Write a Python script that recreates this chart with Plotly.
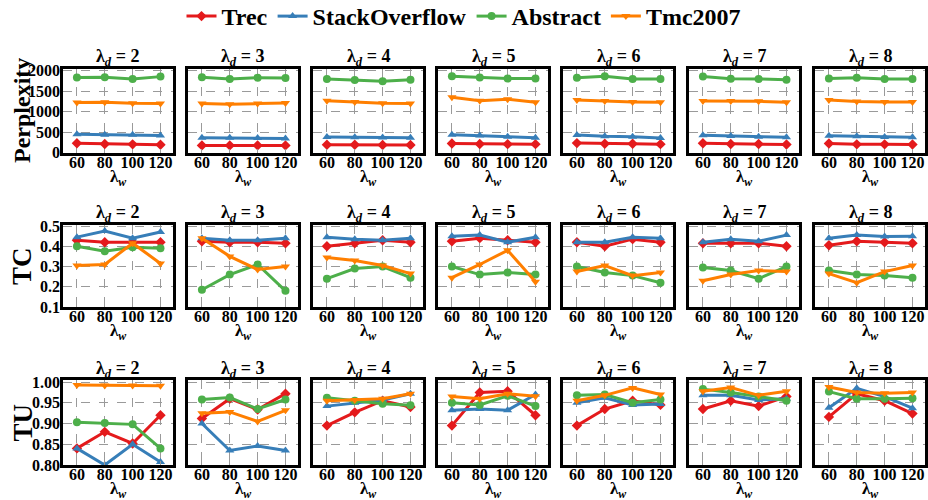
import plotly.graph_objects as go

x_vals = [60, 80, 100, 120]
lambda_d = [2, 3, 4, 5, 6, 7, 8]
x_ticks = [60, 80, 100, 120]
series_names = ["Trec", "StackOverflow", "Abstract", "Tmc2007"]

ppl_trec = [[230,215,205,195],[180,180,180,180],[195,195,190,190],[225,215,210,210],[235,220,220,210],[230,215,215,200],[225,205,205,200]]
ppl_so = [[450,440,440,420],[365,365,360,350],[385,380,370,365],[440,420,390,365],[430,400,390,360],[425,410,390,375],[415,400,385,380]]
ppl_abs = [[1830,1835,1790,1850],[1835,1790,1825,1815],[1795,1770,1740,1775],[1860,1830,1805,1805],[1825,1860,1795,1795],[1850,1800,1795,1775],[1805,1820,1795,1790]]
ppl_tmc = [[1220,1225,1205,1200],[1195,1180,1195,1210],[1265,1235,1205,1200],[1350,1265,1300,1230],[1280,1255,1235,1225],[1255,1255,1250,1225],[1280,1245,1235,1235]]

tc_trec = [[0.43,0.42,0.42,0.42],[0.425,0.42,0.42,0.415],[0.40,0.415,0.43,0.42],[0.425,0.44,0.43,0.42],[0.42,0.40,0.435,0.42],[0.415,0.415,0.415,0.40],[0.405,0.425,0.42,0.415]]
tc_so = [[0.445,0.475,0.44,0.47],[0.44,0.43,0.43,0.44],[0.445,0.435,0.43,0.44],[0.45,0.455,0.42,0.445],[0.42,0.42,0.445,0.44],[0.42,0.435,0.425,0.455],[0.44,0.455,0.448,0.45]]
tc_abs = [[0.40,0.375,0.395,0.39],[0.185,0.26,0.31,0.18],[0.24,0.29,0.30,0.245],[0.30,0.26,0.27,0.26],[0.30,0.27,0.255,0.22],[0.295,0.28,0.24,0.30],[0.28,0.26,0.255,0.245]]
tc_tmc = [[0.305,0.31,0.415,0.315],[0.44,0.35,0.285,0.30],[0.345,0.33,0.305,0.265],[0.245,0.31,0.38,0.225],[0.275,0.305,0.255,0.27],[0.23,0.26,0.28,0.275],[0.265,0.22,0.275,0.305]]

tu_trec = [[0.84,0.88,0.852,0.92],[0.912,0.96,0.934,0.972],[0.895,0.927,0.955,0.94],[0.895,0.975,0.978,0.92],[0.895,0.935,0.955,0.945],[0.935,0.955,0.942,0.965],[0.916,0.972,0.955,0.924]]
tu_so = [[0.84,0.80,0.85,0.807],[0.90,0.835,0.846,0.835],[0.942,0.95,0.957,0.972],[0.932,0.935,0.932,0.97],[0.95,0.962,0.945,0.947],[0.968,0.968,0.957,0.96],[0.938,0.985,0.965,0.937]]
tu_abs = [[0.903,0.901,0.898,0.84],[0.958,0.963,0.935,0.958],[0.962,0.955,0.948,0.944],[0.95,0.945,0.967,0.942],[0.968,0.97,0.95,0.958],[0.983,0.975,0.965,0.955],[0.977,0.96,0.96,0.961]]
tu_tmc = [[0.993,0.992,0.992,0.991],[0.925,0.928,0.905,0.932],[0.955,0.957,0.96,0.972],[0.965,0.96,0.972,0.966],[0.955,0.968,0.986,0.97],[0.978,0.987,0.968,0.978],[0.988,0.975,0.973,0.975]]

row_labels = ["Perplexity", "TC", "TU"]
ppl_ticks = [0, 500, 1000, 1500, 2000]
tc_ticks = [0.1, 0.2, 0.3, 0.4, 0.5]
tu_ticks = [0.80, 0.85, 0.90, 0.95, 1.00]

rows_data = [
    (ppl_trec, ppl_so, ppl_abs, ppl_tmc),
    (tc_trec, tc_so, tc_abs, tc_tmc),
    (tu_trec, tu_so, tu_abs, tu_tmc),
]
row_ticks = [ppl_ticks, tc_ticks, tu_ticks]
row_ticktext = [[str(v) for v in ppl_ticks], ["%.1f" % v for v in tc_ticks], ["%.2f" % v for v in tu_ticks]]
row_ranges = [[-5, 2035], [0.1, 0.505], [0.8, 1.005]]

colors = ["#e41a1c", "#377eb8", "#4daf4a", "#ff7f00"]
symbols = ["diamond", "triangle-up", "circle", "triangle-down"]

W, H = 928, 500
col_left = [63, 188, 313, 438, 563, 689, 815]
col_w = 110
row_px = [(69, 153), (225, 307), (380, 465)]

FONT = "Liberation Serif"
fig = go.Figure()
layout = {}
annotations = []

for r in range(3):
    top, bot = row_px[r]
    for c in range(7):
        idx = r * 7 + c + 1
        xa = "x" if idx == 1 else "x%d" % idx
        ya = "y" if idx == 1 else "y%d" % idx
        for s in range(4):
            fig.add_trace(go.Scatter(
                x=x_vals, y=rows_data[r][s][c], mode="lines+markers",
                name=series_names[s], legendgroup=series_names[s],
                showlegend=(idx == 1),
                line=dict(color=colors[s], width=3),
                marker=dict(symbol=symbols[s], size=8, color=colors[s]),
                xaxis=xa, yaxis=ya,
            ))
        axis_common = dict(
            showline=True, mirror=True, linecolor="black", linewidth=2.5,
            showgrid=True, gridcolor="#9a9a9a", griddash="dash", gridwidth=1,
            zeroline=False, ticks="inside", ticklen=4, tickcolor="#9a9a9a",
            automargin=False,
            tickfont=dict(family=FONT, size=16, color="black", weight="bold"),
        )
        layout["xaxis" if idx == 1 else "xaxis%d" % idx] = dict(
            axis_common,
            domain=[col_left[c] / W, (col_left[c] + col_w) / W],
            anchor=ya, range=[50, 129], tickvals=x_ticks,
            ticklabelstandoff=-7,
        )
        layout["yaxis" if idx == 1 else "yaxis%d" % idx] = dict(
            axis_common,
            domain=[1 - bot / H, 1 - top / H],
            anchor=xa, range=row_ranges[r], tickvals=row_ticks[r],
            ticktext=row_ticktext[r], showticklabels=(c == 0),
            ticklabelstandoff=-3,
        )
        cx = (col_left[c] + col_w / 2) / W
        annotations.append(dict(
            text="λ<sub><i>d</i></sub> = %d" % lambda_d[c], x=cx, y=1 - (top - 11) / H,
            xref="paper", yref="paper", xanchor="center", yanchor="middle",
            showarrow=False, font=dict(family=FONT, size=18, color="black", weight="bold"),
        ))
        annotations.append(dict(
            text="λ<sub><i>w</i></sub>", x=cx, y=1 - (bot + 25) / H,
            xref="paper", yref="paper", xanchor="center", yanchor="middle",
            showarrow=False, font=dict(family=FONT, size=17, color="black", weight="bold"),
        ))
    annotations.append(dict(
        text=row_labels[r], x=22 / W, y=1 - ((top + bot) / 2) / H,
        xref="paper", yref="paper", xanchor="center", yanchor="middle",
        textangle=-90, showarrow=False,
        font=dict(family=FONT, size=24 if r == 0 else 27, color="black", weight="bold"),
    ))

fig.update_layout(
    **layout,
    annotations=annotations,
    width=W, height=H,
    margin=dict(l=0, r=0, t=0, b=0, autoexpand=False),
    paper_bgcolor="white", plot_bgcolor="white",
    legend=dict(orientation="h", x=0.5, xanchor="center", y=1.012, yanchor="top",
                font=dict(family=FONT, size=24, color="black", weight="bold"),
                itemwidth=30, bgcolor="rgba(0,0,0,0)"),
)

fig.write_html("out.html", config={"displayModeBar": False},
               post_script="document.body.style.margin='0';document.body.style.overflow='hidden';")
